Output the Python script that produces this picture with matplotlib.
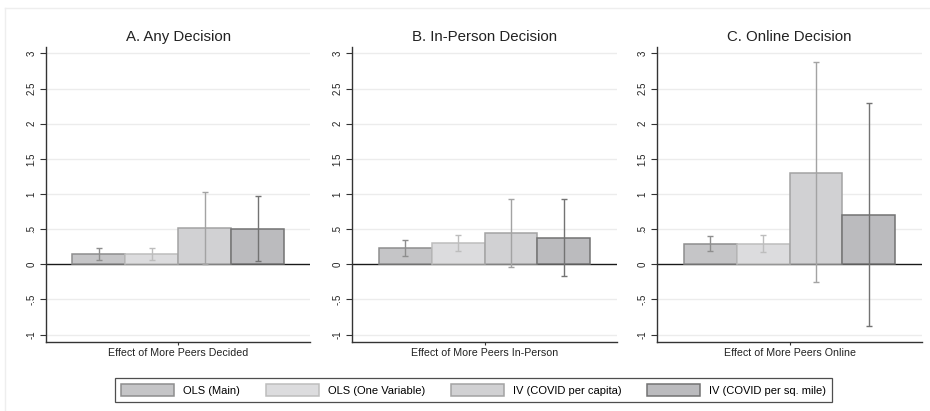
import matplotlib

matplotlib.use("Agg")
import matplotlib.pyplot as plt
from matplotlib.lines import Line2D
from matplotlib.patches import Patch
import numpy as np

plt.rcParams["font.family"] = ["Liberation Sans", "DejaVu Sans"]

# panel titles and x tick labels
panel_titles = ["A. Any Decision", "B. In-Person Decision", "C. Online Decision"]
panel_xlabels = [
    "Effect of More Peers Decided",
    "Effect of More Peers In-Person",
    "Effect of More Peers Online",
]
series_names = ["OLS (Main)", "OLS (One Variable)", "IV (COVID per capita)", "IV (COVID per sq. mile)"]

# point estimates (one list per panel, order = series_names)
est_any = [0.142, 0.142, 0.512, 0.498]
est_inperson = [0.228, 0.300, 0.443, 0.376]
est_online = [0.293, 0.284, 1.303, 0.697]

# confidence interval bounds
lo_any = [0.061, 0.060, -0.002, 0.043]
hi_any = [0.232, 0.232, 1.033, 0.967]
lo_inperson = [0.118, 0.190, -0.043, -0.167]
hi_inperson = [0.343, 0.423, 0.933, 0.929]
lo_online = [0.189, 0.175, -0.247, -0.882]
hi_online = [0.398, 0.412, 2.873, 2.294]

y_ticks = [-1, -0.5, 0, 0.5, 1, 1.5, 2, 2.5, 3]
y_ticklabels = ["-1", "-.5", "0", ".5", "1", "1.5", "2", "2.5", "3"]

fills = ["#c5c5c7", "#dcdcde", "#d1d1d3", "#bbbbbe"]
edges = ["#8e8e8e", "#bdbdbd", "#a3a3a3", "#737373"]

estimates = [est_any, est_inperson, est_online]
lows = [lo_any, lo_inperson, lo_online]
highs = [hi_any, hi_inperson, hi_online]

W, H = 930, 411
fig = plt.figure(figsize=(W / 100, H / 100), dpi=100)

# faint outer frame (top and left edges visible)
fig.add_artist(Line2D([5 / W, 1], [1 - 8 / H, 1 - 8 / H], color="#eeeeee", lw=1.0))
fig.add_artist(Line2D([5 / W, 5 / W], [0, 1 - 8 / H], color="#eeeeee", lw=1.0))

lefts = [46, 352.3, 657.3]
ax_w, ax_top, ax_bottom = 264.4, 47, 342
pos = np.array([-0.3, -0.1, 0.1, 0.3])

for i, left in enumerate(lefts):
    ax = fig.add_axes([left / W, 1 - ax_bottom / H, ax_w / W, (ax_bottom - ax_top) / H])
    ax.set_xlim(-0.5, 0.5)
    ax.set_ylim(-1.105, 3.091)
    for t in y_ticks:
        if t != 0:
            ax.axhline(t, color="#ececec", lw=1.0, zorder=0)
    ax.axhline(0, color="#1a1a1a", lw=1.0, zorder=1)

    est = np.array(estimates[i])
    lo = np.array(lows[i])
    hi = np.array(highs[i])
    for j in range(4):
        ax.bar(pos[j], est[j], width=0.2, color=fills[j], edgecolor=edges[j], linewidth=1.1, zorder=2)
        ax.errorbar(pos[j], est[j], yerr=[[est[j] - lo[j]], [hi[j] - est[j]]], fmt="none",
                    ecolor=edges[j], elinewidth=1.0, capsize=2.0, capthick=1.0, zorder=3)

    ax.set_yticks(y_ticks, y_ticklabels, rotation=90, va="center", fontsize=7, color="#222222")
    ax.set_xticks([0], [panel_xlabels[i]], fontsize=7.7, color="#222222")
    ax.tick_params(axis="y", length=4, width=0.8, pad=3, color="#333333")
    ax.tick_params(axis="x", length=2.5, width=0.8, pad=1.5, color="#333333")
    for side in ["top", "right"]:
        ax.spines[side].set_visible(False)
    for side in ["left", "bottom"]:
        ax.spines[side].set_color("#333333")
        ax.spines[side].set_linewidth(1.0)
    ax.set_title(panel_titles[i], fontsize=10.8, pad=4, color="#222222")

handles = [Patch(facecolor=fills[j], edgecolor=edges[j], linewidth=1.1) for j in range(4)]
leg = fig.legend(handles, series_names, ncol=4, loc="center", bbox_to_anchor=(473.5 / W, 1 - 390 / H),
                 fontsize=8, frameon=True, fancybox=False, edgecolor="#222222",
                 handlelength=4.8, handleheight=1.25, handletextpad=0.8, columnspacing=2.3,
                 borderpad=0.55, borderaxespad=0)
leg.get_frame().set_linewidth(0.9)

fig.savefig("out.png", dpi=100, facecolor="white")
